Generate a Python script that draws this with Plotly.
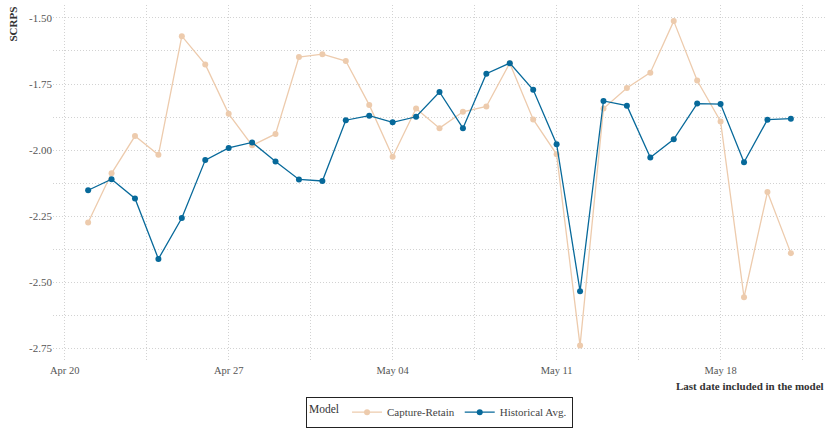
import plotly.graph_objects as go
import pandas as pd

dates = pd.date_range("2020-04-21", "2020-05-21", freq="D")

capture_retain = [-2.274, -2.088, -1.947, -2.018, -1.569, -1.676, -1.863, -1.982, -1.939, -1.648,
                  -1.637, -1.663, -1.829, -2.025, -1.843, -1.917, -1.855, -1.835, -1.671, -1.884,
                  -2.016, -2.740, -1.843, -1.765, -1.707, -1.512, -1.737, -1.892, -2.557, -2.159,
                  -2.390]
historical_avg = [-2.152, -2.110, -2.183, -2.412, -2.257, -2.038, -1.992, -1.971, -2.043, -2.111,
                  -2.117, -1.887, -1.870, -1.895, -1.874, -1.780, -1.917, -1.711, -1.671, -1.772,
                  -1.978, -2.534, -1.814, -1.832, -2.028, -1.959, -1.824, -1.826, -2.046, -1.885,
                  -1.881]

x_tick_dates = ["2020-04-20", "2020-04-27", "2020-05-04", "2020-05-11", "2020-05-18"]
x_tick_labels = ["Apr 20", "Apr 27", "May 04", "May 11", "May 18"]
x_minor_dates = ["2020-04-23 12:00", "2020-04-30 12:00", "2020-05-07 12:00",
                 "2020-05-14 12:00", "2020-05-21 12:00"]
y_ticks = [-2.75, -2.50, -2.25, -2.00, -1.75, -1.50]
y_tick_labels = ["-2.75", "-2.50", "-2.25", "-2.00", "-1.75", "-1.50"]
y_minor = [-2.625, -2.375, -2.125, -1.875, -1.625]

FONT = "Liberation Serif"
TAN = "#EDCBAD"
BLUE = "#07699A"
GRID = "#d2d2d2"
DASH = "1px,2px"

fig = go.Figure()
fig.add_trace(go.Scatter(x=dates, y=capture_retain, mode="lines+markers", name="Capture-Retain",
                         line=dict(color=TAN, width=1.3), marker=dict(color=TAN, size=6)))
fig.add_trace(go.Scatter(x=dates, y=historical_avg, mode="lines+markers", name="Historical Avg.",
                         line=dict(color=BLUE, width=1.3), marker=dict(color=BLUE, size=6)))

fig.update_layout(
    width=829, height=430,
    margin=dict(l=53, r=3, t=5, b=67),
    paper_bgcolor="white", plot_bgcolor="white",
    font=dict(family=FONT, size=11, color="#555555"),
    showlegend=True,
    legend=dict(orientation="h", x=0.5, xanchor="center", y=-0.094, yanchor="top",
                bordercolor="#222222", borderwidth=1, bgcolor="white",
                title=dict(text="Model", font=dict(family=FONT, size=11.5, color="#333333")),
                font=dict(family=FONT, size=11, color="#444444"),
                itemwidth=30, tracegroupgap=0),
    xaxis=dict(
        range=["2020-04-19 12:00", "2020-05-22 12:00"],
        tickmode="array", tickvals=x_tick_dates, ticktext=x_tick_labels,
        showgrid=True, gridcolor=GRID, griddash=DASH, gridwidth=1,
        minor=dict(tickmode="array", tickvals=x_minor_dates, showgrid=True,
                   gridcolor=GRID, griddash=DASH, gridwidth=1),
        zeroline=False, showline=False, ticks="", automargin=False,
        tickfont=dict(family=FONT, size=10.5, color="#555555"),
    ),
    yaxis=dict(
        range=[-2.802, -1.451],
        tickmode="array", tickvals=y_ticks, ticktext=y_tick_labels,
        showgrid=True, gridcolor=GRID, griddash=DASH, gridwidth=1,
        minor=dict(tickmode="array", tickvals=y_minor, showgrid=True,
                   gridcolor=GRID, griddash=DASH, gridwidth=1),
        zeroline=False, showline=False, ticks="", automargin=False,
        tickfont=dict(family=FONT, size=11, color="#555555"),
    ),
)

fig.add_annotation(text="<b>SCRPS</b>", xref="paper", yref="paper", x=-0.053, y=1.0,
                   xanchor="center", yanchor="top", textangle=-90, showarrow=False,
                   font=dict(family=FONT, size=11, color="#333333"))
fig.add_annotation(text="<b>Last date included in the model</b>", xref="paper", yref="paper",
                   x=1.0, y=-0.045, xanchor="right", yanchor="top", showarrow=False,
                   font=dict(family=FONT, size=11, color="#333333"))

fig.write_html("out.html", config={"displayModeBar": False},
               post_script="document.body.style.margin='0';document.body.style.overflow='hidden';")
